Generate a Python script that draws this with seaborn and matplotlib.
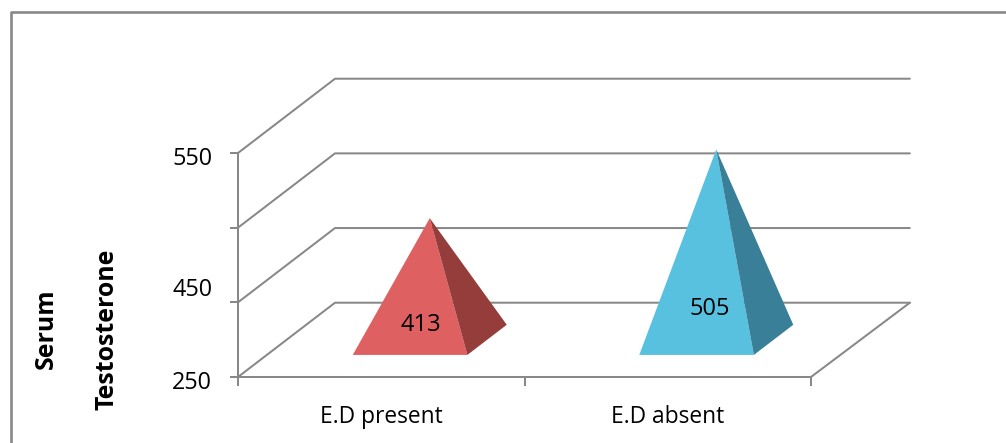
import pandas as pd
import seaborn as sns
import matplotlib.pyplot as plt
from matplotlib.lines import Line2D
from matplotlib.transforms import ScaledTranslation

#chart values
groups = ["E.D present", "E.D absent"]
testosterone = [413, 505]
front_colors = ["#DF6060", "#58C1DF"]
side_colors = ["#943D3B", "#387F97"]
value_ticks = [250, 350, 450, 550]
value_tick_labels = ["250", "450", "", "550"]
label_heights = [319.5, 341.5]
label_shifts = [-6.5, -4.5]

GREY = "#888888"
LINE = 1.45
BOTTOM = 250
#oblique offset of the back wall, in data units
DEPTH_X = 0.3386
DEPTH_Y = 99.5
RIGHT_END = 2.345

sns.set_theme(style="white", rc={"axes.edgecolor": GREY, "axes.linewidth": LINE})
plt.rcParams["font.family"] = ["Open Sans", "DejaVu Sans"]

fig = plt.figure(figsize=(10.06, 4.43), dpi=100)
ax = fig.add_axes([238 / 1006, 66 / 443, 573 / 1006, 224 / 443])
ax.set_xlim(0, 2)
ax.set_ylim(BOTTOM, 550)
ax.patch.set_alpha(0)
sns.despine(ax=ax)


def project(x, value, depth):
    return x + depth * DEPTH_X, value + depth * DEPTH_Y


#wall and floor lines
for level in value_ticks:
    xs = [0, DEPTH_X, RIGHT_END]
    ys = [level, level + DEPTH_Y, level + DEPTH_Y]
    sns.lineplot(x=xs, y=ys, sort=False, estimator=None, color=GREY, linewidth=LINE, ax=ax, clip_on=False, zorder=1)
sns.lineplot(x=[2, RIGHT_END], y=[BOTTOM, BOTTOM + DEPTH_Y], sort=False, estimator=None,
             color=GREY, linewidth=LINE, ax=ax, clip_on=False, zorder=1)
ax.set_xlim(0, 2)
ax.set_ylim(BOTTOM, 550)

#pyramids
df = pd.DataFrame({"group": groups, "value": testosterone, "pos": [0.5, 1.5]})
half = 0.2
near, far = 0.297, 0.703
for i, row in df.iterrows():
    apex = project(row["pos"], row["value"], 0.5)
    front_l = project(row["pos"] - half, BOTTOM, near)
    front_r = project(row["pos"] + half, BOTTOM, near)
    back_r = project(row["pos"] + half, BOTTOM, far)
    ax.fill(*zip(apex, front_l, front_r), color=front_colors[i], lw=0, clip_on=False, zorder=3)
    ax.fill(*zip(apex, front_r, back_r), color=side_colors[i], lw=0, clip_on=False, zorder=3)
    ax.annotate(str(row["value"]), (apex[0], label_heights[i]), xytext=(label_shifts[i], 0), textcoords="offset points",
                ha="center", va="center", fontsize=17, color="black", zorder=4)

#axes ticks and labels
ax.set_yticks(value_ticks, value_tick_labels, fontsize=16.8, color="black")
ax.tick_params(axis="y", left=True, length=6, width=LINE, color=GREY, pad=12.5)
for tick_label, shift in zip(ax.get_yticklabels(), [-3, 15, 0, -3]):
    tick_label.set_transform(tick_label.get_transform() + ScaledTranslation(0, shift / 100, fig.dpi_scale_trans))

ax.set_xticks([0, 1, 2], [])
ax.set_xticks([0.5, 1.5], groups, minor=True, fontsize=16.4, color="black")
ax.tick_params(axis="x", which="major", bottom=True, length=6.5, width=LINE, color=GREY)
ax.tick_params(axis="x", which="minor", bottom=False, length=0, pad=20)

ax.set_ylabel("Serum\nTestosterone", fontsize=17.9, fontweight="bold", color="black", linespacing=2.85)
ax.yaxis.set_label_coords(-119 / 573, 48 / 224)

#chart frame, open on the right and bottom
fig.add_artist(Line2D([10.5 / 1006, 10.5 / 1006, 1], [0, 431.5 / 443, 431.5 / 443], color=GREY, linewidth=1.9))

plt.savefig("out.png", dpi=100)
